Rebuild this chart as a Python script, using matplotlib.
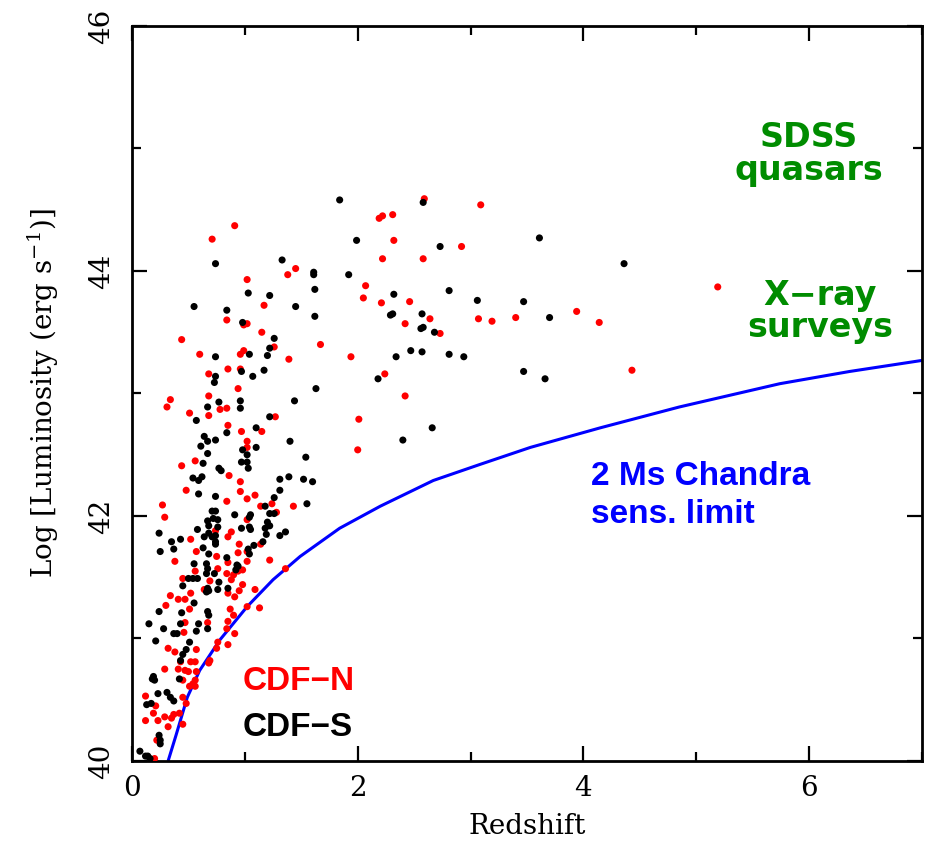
import matplotlib
matplotlib.use("Agg")
import matplotlib.pyplot as plt
from matplotlib.ticker import MultipleLocator

# ---------------- data ----------------
# CDF-N sources (red)
cdfn_z = [0.91, 0.71, 1.02, 1.45, 1.38, 1.17, 0.84, 0.99, 1.02, 1.15, 0.44, 1.67, 0.60, 0.96, 0.99,
          1.26, 1.39, 0.85, 0.96, 0.68, 0.94, 0.68, 0.34, 0.31, 0.51, 0.78, 0.84, 0.68, 1.27,
          0.85, 0.97, 1.15, 1.02, 1.02, 0.56, 0.44, 0.86, 0.96, 0.48, 0.96, 1.09, 1.02, 0.84,
          0.27, 1.14, 1.24, 1.43, 0.29, 1.28, 1.02, 0.74, 0.88, 0.85, 0.52, 0.95, 0.57, 1.14,
          0.75, 0.94, 1.02, 1.02, 0.38, 0.85, 1.22, 1.36, 0.56, 0.76, 0.84, 0.90, 0.94, 0.88,
          0.98, 0.45, 0.69, 0.98, 0.64, 0.52, 0.85, 0.95, 1.09, 0.34, 0.47, 0.41, 0.91,
          0.30, 1.02, 1.13, 0.87, 0.51, 0.47, 0.90, 0.85, 0.67, 0.46, 0.84, 0.91, 0.32, 0.38,
          0.57, 0.76, 0.75, 0.85, 0.52, 0.56, 0.69, 0.68, 0.43, 0.29, 0.41, 0.47, 0.50, 0.57,
          0.45, 0.56, 0.54, 0.51, 0.56, 0.12, 0.45, 0.21, 0.19, 0.48, 0.37, 0.35, 0.42, 0.29,
          0.12, 0.23, 0.32, 0.45, 0.22, 0.20,
          2.59, 3.09, 2.19, 2.22, 2.31, 2.32, 2.92, 2.22, 2.58, 2.07, 2.05, 2.21, 2.46, 2.64,
          2.42, 2.73, 3.07, 3.19, 3.40, 1.94, 2.24, 2.42, 2.01, 2.00, 3.94, 4.14, 5.19, 4.43]
cdfn_L = [44.37, 44.26, 43.93, 44.02, 43.97, 43.72, 43.60, 43.56, 43.57, 43.50, 43.44, 43.40, 43.32,
          43.32, 43.35, 43.38, 43.28, 43.20, 43.20, 43.16, 43.04, 42.98, 42.95, 42.89, 42.84,
          42.87, 42.88, 42.82, 42.81,
          42.74, 42.69, 42.69, 42.61, 42.56, 42.45, 42.41, 42.33, 42.28, 42.21, 42.20, 42.17,
          42.14, 42.12, 42.09, 42.08, 42.10, 42.08, 41.99, 42.03, 41.97, 41.88, 41.87, 41.83,
          41.81, 41.77, 41.71, 41.77, 41.67, 41.70, 41.71, 41.63, 41.63, 41.62, 41.64, 41.57,
          41.55, 41.57, 41.53, 41.52, 41.55, 41.48, 41.56, 41.49, 41.47, 41.44, 41.40, 41.37,
          41.37, 41.39, 41.40, 41.35, 41.32, 41.32, 41.34,
          41.27, 41.26, 41.25, 41.24, 41.24, 41.13, 41.19, 41.14, 41.13, 41.05, 41.08, 41.04,
          40.92, 40.89, 40.91, 40.97, 40.92, 40.95, 40.81, 40.81, 40.82, 40.80, 40.81, 40.75,
          40.75, 40.74, 40.73, 40.73, 40.66, 40.66, 40.63, 40.61, 40.61, 40.53, 40.52, 40.45,
          40.39, 40.47, 40.38, 40.35, 40.39, 40.36, 40.33, 40.33, 40.28, 40.30, 40.17, 40.02,
          44.59, 44.54, 44.43, 44.45, 44.46, 44.25, 44.20, 44.10, 44.10, 43.88, 43.78, 43.74,
          43.75, 43.61, 43.57, 43.49, 43.61, 43.59, 43.62, 43.30, 43.16, 42.98, 42.79, 42.54,
          43.67, 43.58, 43.87, 43.19]

# CDF-S sources (black)
cdfs_z = [0.74, 1.33, 1.61, 1.61, 1.03, 1.22, 1.62, 0.55, 0.84, 1.45, 1.62, 0.98, 1.26, 1.22,
          1.04, 1.20, 0.74, 0.74, 0.73, 0.97, 1.07, 1.17, 1.63, 0.77, 1.44, 0.96, 0.96, 0.67,
          1.22, 0.57,
          0.84, 1.10, 0.64, 0.67, 0.74, 0.61, 0.67, 0.98, 1.10, 1.40, 1.02, 0.97, 1.02, 1.03,
          0.63, 1.54, 0.77, 0.79, 0.54, 0.59, 0.62, 1.31, 1.39, 1.52, 1.60, 0.59, 0.74, 1.31,
          1.26, 1.18, 1.22, 1.26, 1.55, 0.71, 0.74, 0.91, 1.05, 1.04, 0.67, 0.76, 0.72, 0.68,
          0.76, 0.24, 0.58, 0.97, 1.04, 1.05, 1.20, 1.22, 1.18, 1.19, 0.68, 0.71, 0.74, 0.64,
          1.31, 1.36, 0.35, 0.43, 0.74, 0.74, 1.16, 0.63, 0.37, 0.25, 1.08, 1.03, 1.04, 0.68,
          0.84, 0.55, 0.66, 0.67, 0.66, 0.93, 0.94, 0.92, 0.73, 0.50, 0.54, 0.58, 0.77, 0.45,
          0.67, 0.68, 0.66, 0.76, 0.85,
          0.24, 0.44, 0.55, 0.67, 0.68, 0.15, 0.28, 0.37, 0.40, 0.43, 0.59, 0.57, 0.67, 0.21,
          0.51, 0.48, 0.45, 0.43, 0.19, 0.18, 0.20, 0.42, 0.23, 0.31, 0.34, 0.37, 0.13, 0.17,
          0.24, 0.25, 0.25, 0.07, 0.12, 0.14, 0.16,
          1.84, 2.58, 1.99, 2.73, 3.61, 1.92, 2.32, 2.81, 3.06, 3.47, 2.29, 2.31, 2.57, 2.56,
          2.58, 2.68, 3.70, 2.34, 2.47, 2.57, 2.81, 2.94, 2.18, 3.47, 3.66, 2.66, 2.40, 4.36]
cdfs_L = [44.06, 44.09, 43.99, 43.97, 43.82, 43.80, 43.85, 43.71, 43.68, 43.71, 43.63, 43.58,
          43.45, 43.37, 43.32, 43.31, 43.30, 43.14, 43.09, 43.18, 43.14, 43.19, 43.04, 42.93,
          42.94, 42.94, 42.88, 42.89, 42.81, 42.78,
          42.68, 42.72, 42.65, 42.61, 42.62, 42.57, 42.51, 42.54, 42.56, 42.61, 42.50, 42.44,
          42.44, 42.39, 42.43, 42.48, 42.39, 42.37, 42.31, 42.29, 42.32, 42.30, 42.32, 42.30,
          42.28, 42.18, 42.16, 42.21, 42.15, 42.08, 42.02, 42.02, 42.10, 42.04, 42.04, 42.01,
          42.01, 41.99, 41.96, 41.97, 41.98, 41.92, 41.91, 41.86, 41.89, 41.90, 41.91, 41.89,
          41.95, 41.92, 41.90, 41.85, 41.86, 41.83, 41.84, 41.83, 41.84, 41.87, 41.79, 41.81,
          41.79, 41.77, 41.79, 41.74, 41.73, 41.71, 41.76, 41.73, 41.69, 41.69, 41.66, 41.61,
          41.61, 41.57, 41.53, 41.60, 41.59, 41.56, 41.53, 41.49, 41.49, 41.49, 41.46, 41.43,
          41.41, 41.39, 41.38, 41.40, 41.41,
          41.22, 41.21, 41.29, 41.22, 41.19, 41.12, 41.08, 41.04, 41.04, 41.12, 41.12, 41.06,
          41.08, 40.98, 40.97, 40.91, 40.87, 40.82, 40.69, 40.67, 40.66, 40.67, 40.55, 40.56,
          40.52, 40.49, 40.46, 40.47, 40.21, 40.17, 40.14, 40.08, 40.04, 40.04, 40.02,
          44.58, 44.56, 44.25, 44.20, 44.27, 43.97, 43.81, 43.84, 43.76, 43.75, 43.64, 43.65,
          43.65, 43.53, 43.54, 43.50, 43.62, 43.30, 43.35, 43.34, 43.32, 43.30, 43.12, 43.18,
          43.12, 42.72, 42.62, 44.06]

# 2 Ms Chandra sensitivity limit
limit_z = [0.32, 0.39, 0.49, 0.60, 0.78, 1.02, 1.25, 1.49, 1.84, 2.20, 2.67, 3.08, 3.53,
           4.15, 4.85, 5.74, 6.36, 7.00]
limit_L = [40.00, 40.21, 40.52, 40.74, 40.99, 41.26, 41.48, 41.67, 41.90, 42.08, 42.29, 42.42,
           42.56, 42.72, 42.89, 43.08, 43.18, 43.27]

x_ticks = [0, 2, 4, 6]
y_ticks = [40, 42, 44, 46]

# ---------------- figure ----------------
plt.rcParams['mathtext.fontset'] = 'dejavuserif'
W, H = 926, 847
fig = plt.figure(figsize=(W / 100, H / 100), dpi=100)
ax = fig.add_axes([132 / W, 1 - 761 / H, (922 - 132) / W, (761 - 26) / H])

ax.plot(limit_z, limit_L, color='#0000ff', lw=2.2, zorder=2, solid_capstyle='butt',
        solid_joinstyle='round')
ax.scatter(cdfn_z, cdfn_L, s=26, color='#ff0000', edgecolors='none', zorder=3)
ax.scatter(cdfs_z, cdfs_L, s=26, color='black', edgecolors='none', zorder=4)

ax.set_xlim(0, 7)
ax.set_ylim(40, 46)
ax.set_xticks(x_ticks)
ax.set_yticks(y_ticks)
ax.xaxis.set_minor_locator(MultipleLocator(1))
ax.yaxis.set_minor_locator(MultipleLocator(1))
ax.tick_params(which='both', direction='in', top=True, right=True, width=1.6, color='black')
ax.tick_params(which='major', length=11)
ax.tick_params(which='minor', length=6.5)
ax.tick_params(axis='x', which='major', pad=10)
ax.tick_params(axis='y', which='major', pad=12)
for sp in ax.spines.values():
    sp.set_linewidth(2.0)

serif = 'DejaVu Serif'
for lab in ax.get_xticklabels():
    lab.set_fontfamily(serif)
    lab.set_fontsize(20)
for lab in ax.get_yticklabels():
    lab.set_fontfamily(serif)
    lab.set_fontsize(20)
    lab.set_rotation(90)
    lab.set_va('center')

ax.set_xlabel('Redshift', fontfamily=serif, fontsize=20, labelpad=8)
ax.set_ylabel('Log [Luminosity (erg s$^{-1}$)]', fontfamily=serif, fontsize=20, labelpad=20)

bold = dict(fontfamily='Liberation Sans', fontweight='bold', fontsize=24)
gbold = dict(fontfamily='DejaVu Sans', fontweight='bold', fontsize=24)
green = '#008c00'
ax.text(6.00, 44.74, 'SDSS\nquasars', color=green, ha='center', va='baseline',
        multialignment='center', linespacing=1.02, **gbold)
ax.text(6.10, 43.46, 'X\u2212ray\nsurveys', color=green, ha='center', va='baseline',
        multialignment='center', linespacing=0.96, **gbold)
ax.text(4.07, 41.94, '2 Ms Chandra\nsens. limit', color='#0000ff', ha='left', va='baseline',
        linespacing=1.29, **bold)
ax.text(0.98, 40.58, 'CDF\u2212N', color='#ff0000', ha='left', va='baseline', **bold)
ax.text(0.98, 40.20, 'CDF\u2212S', color='black', ha='left', va='baseline', **bold)

fig.savefig('out.png', dpi=100)
